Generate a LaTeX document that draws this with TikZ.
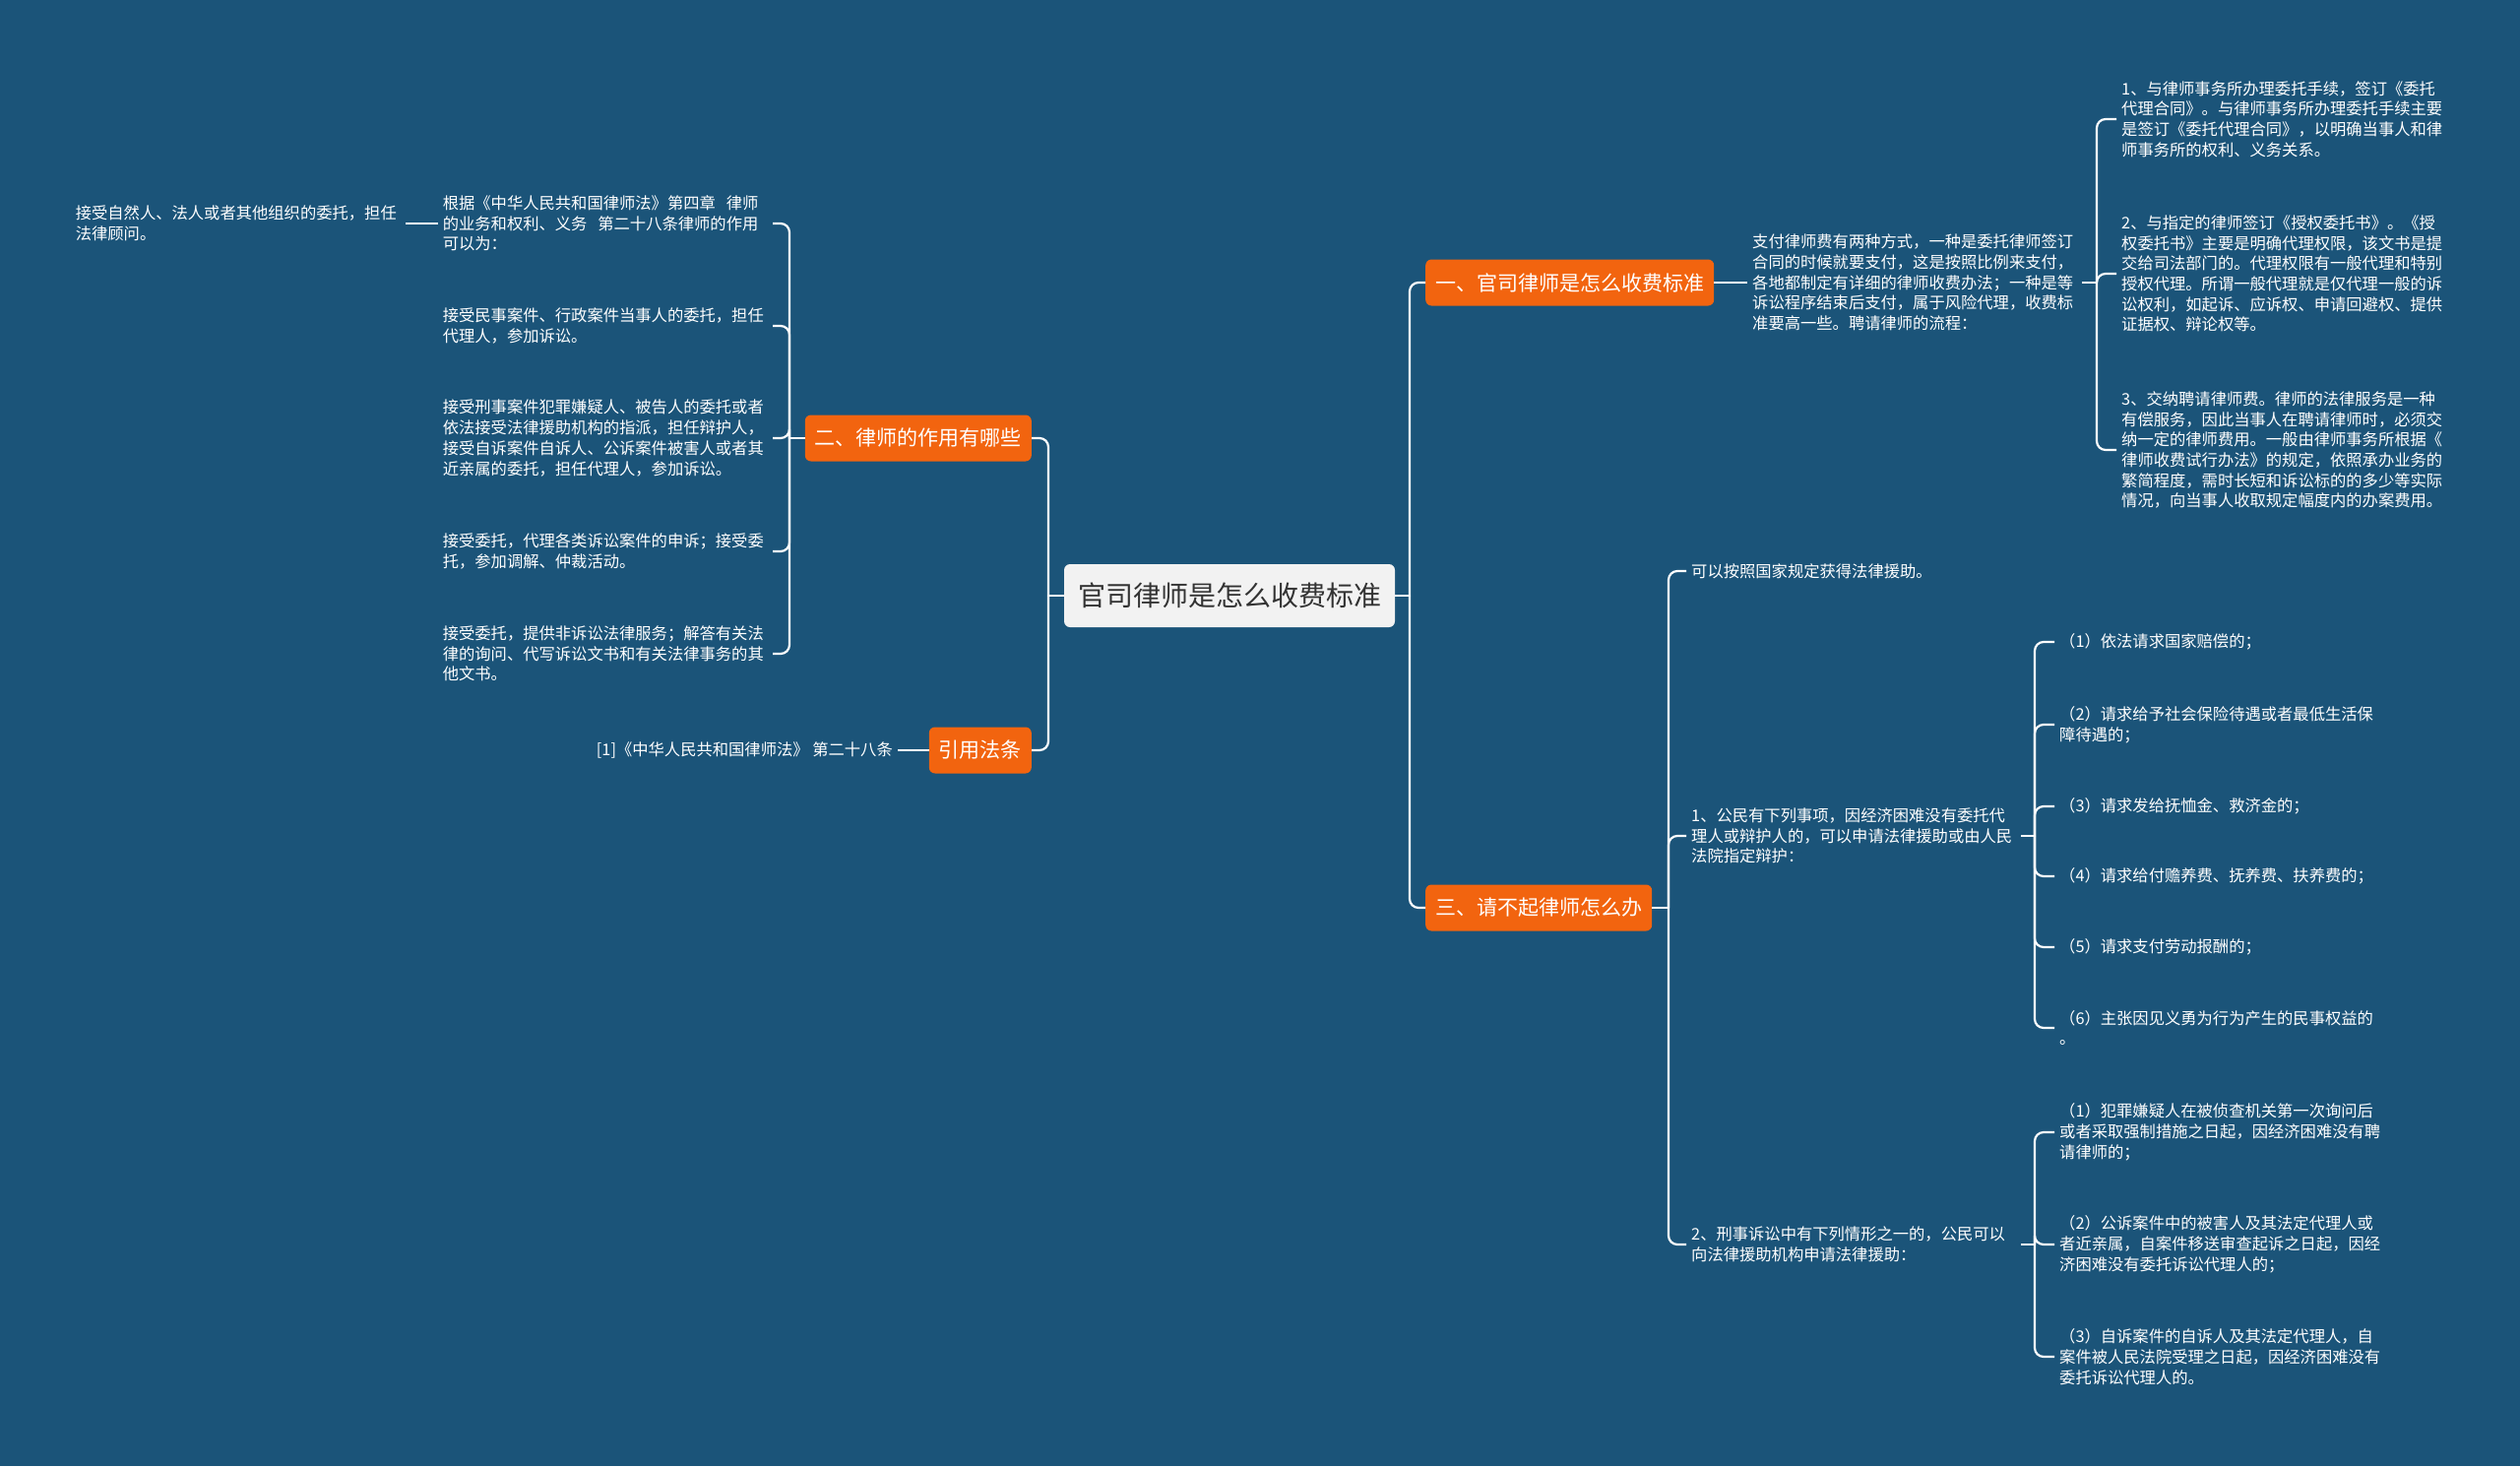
\documentclass[tikz,border=0pt]{standalone}
\usepackage{fontspec}
\setmainfont{Noto Sans CJK SC}
\definecolor{bg}{HTML}{1B5479}
\definecolor{orangebox}{HTML}{F2640F}
\definecolor{rootgray}{HTML}{F2F2F2}
\definecolor{rootink}{HTML}{333333}
\tikzset{
  conn/.style={draw=white, line width=2.2pt},
  bconn/.style={conn, rounded corners=9pt},
  rootbox/.style={fill=rootgray, rounded corners=6pt, text=rootink, font=\fontsize{28}{34}\selectfont, inner xsep=14pt, minimum height=64pt},
  branchbox/.style={fill=orangebox, rounded corners=6pt, text=white, font=\fontsize{21}{26}\selectfont, inner xsep=10pt, minimum height=47pt},
  leaf/.style={text=white, font=\fontsize{16.3}{20.7}\selectfont, align=left, inner xsep=5pt, inner ysep=0pt},
  wleaf/.style={leaf, text width=330pt},
}
\begin{document}
\begin{tikzpicture}[x=1pt, y=-1pt]
\useasboundingbox (0,0) rectangle (2560,1489);
\fill[bg] (0,0) rectangle (2560,1489);

% root
\node[rootbox] (root) at (1249,605) {官司律师是怎么收费标准};

% branches
\node[branchbox, anchor=west] (b1) at (1448,287) {一、官司律师是怎么收费标准};
\node[branchbox, anchor=east] (b2) at (1048,445) {二、律师的作用有哪些};
\node[branchbox, anchor=east] (b4) at (1048,762) {引用法条};
\node[branchbox, anchor=west] (b3) at (1448,922) {三、请不起律师怎么办};

\coordinate (rr) at (1432,605);
\coordinate (rl) at (1065,605);
\draw[conn] (root.east) -- (root.east -| rr);
\draw[bconn] (root.east -| rr) |- (b1.west);
\draw[bconn] (root.east -| rr) |- (b3.west);
\draw[conn] (root.west) -- (root.west -| rl);
\draw[bconn] (root.west -| rl) |- (b2.east);
\draw[bconn] (root.west -| rl) |- (b4.east);

% branch 1
\node[wleaf, anchor=west] (t1) at (1775,287) {支付律师费有两种方式，一种是委托律师签订\\合同的时候就要支付，这是按照比例来支付，\\各地都制定有详细的律师收费办法；一种是等\\诉讼程序结束后支付，属于风险代理，收费标\\准要高一些。聘请律师的流程：};
\draw[conn] (b1.east) -- (t1.west);

\node[wleaf, anchor=west] (t1a) at (2150,121) {1、与律师事务所办理委托手续，签订《委托\\代理合同》。与律师事务所办理委托手续主要\\是签订《委托代理合同》，以明确当事人和律\\师事务所的权利、义务关系。};
\node[wleaf, anchor=west] (t1b) at (2150,278) {2、与指定的律师签订《授权委托书》。《授\\权委托书》主要是明确代理权限，该文书是提\\交给司法部门的。代理权限有一般代理和特别\\授权代理。所谓一般代理就是仅代理一般的诉\\讼权利，如起诉、应诉权、申请回避权、提供\\证据权、辩论权等。};
\node[wleaf, anchor=west] (t1c) at (2150,457) {3、交纳聘请律师费。律师的法律服务是一种\\有偿服务，因此当事人在聘请律师时，必须交\\纳一定的律师费用。一般由律师事务所根据《\\律师收费试行办法》的规定，依照承办业务的\\繁简程度，需时长短和诉讼标的的多少等实际\\情况，向当事人收取规定幅度内的办案费用。};
\coordinate (k1) at (2130,287);
\draw[conn] (t1.east) -- (t1.east -| k1);
\draw[bconn] (t1.east -| k1) |- (t1a.west);
\draw[bconn] (t1.east -| k1) |- (t1b.west);
\draw[bconn] (t1.east -| k1) |- (t1c.west);

% branch 2
\node[wleaf, anchor=east] (c1) at (785,227) {根据《中华人民共和国律师法》第四章~~律师\\的业务和权利、义务~~第二十八条律师的作用\\可以为：};
\node[wleaf, anchor=east] (c2) at (785,331) {接受民事案件、行政案件当事人的委托，担任\\代理人，参加诉讼。};
\node[wleaf, anchor=east] (c3) at (785,445) {接受刑事案件犯罪嫌疑人、被告人的委托或者\\依法接受法律援助机构的指派，担任辩护人，\\接受自诉案件自诉人、公诉案件被害人或者其\\近亲属的委托，担任代理人，参加诉讼。};
\node[wleaf, anchor=east] (c4) at (785,560) {接受委托，代理各类诉讼案件的申诉；接受委\\托，参加调解、仲裁活动。};
\node[wleaf, anchor=east] (c5) at (785,664) {接受委托，提供非诉讼法律服务；解答有关法\\律的询问、代写诉讼文书和有关法律事务的其\\他文书。};
\coordinate (k2) at (802,445);
\draw[conn] (b2.west) -- (b2.west -| k2);
\draw[bconn] (b2.west -| k2) |- (c1.east);
\draw[bconn] (b2.west -| k2) |- (c2.east);
\draw[bconn] (b2.west -| k2) |- (c3.east);
\draw[bconn] (b2.west -| k2) |- (c4.east);
\draw[bconn] (b2.west -| k2) |- (c5.east);

\node[wleaf, anchor=east] (d1) at (412,227) {接受自然人、法人或者其他组织的委托，担任\\法律顾问。};
\draw[conn] (c1.west) -- (d1.east);

% cite
\node[leaf, anchor=east] (cite) at (912,762) {[1]《中华人民共和国律师法》 第二十八条};
\draw[conn] (b4.west) -- (cite.east);

% branch 3
\node[leaf, anchor=west] (e1) at (1713,580) {可以按照国家规定获得法律援助。};
\node[wleaf, anchor=west] (e2) at (1713,849) {1、公民有下列事项，因经济困难没有委托代\\理人或辩护人的，可以申请法律援助或由人民\\法院指定辩护：};
\node[wleaf, anchor=west] (e3) at (1713,1264) {2、刑事诉讼中有下列情形之一的，公民可以\\向法律援助机构申请法律援助：};
\coordinate (k3) at (1695,922);
\draw[conn] (b3.east) -- (b3.east -| k3);
\draw[bconn] (b3.east -| k3) |- (e1.west);
\draw[bconn] (b3.east -| k3) |- (e2.west);
\draw[bconn] (b3.east -| k3) |- (e3.west);

\node[wleaf, anchor=west] (f1) at (2087,652) {（1）依法请求国家赔偿的；};
\node[wleaf, anchor=west] (f2) at (2087,736) {（2）请求给予社会保险待遇或者最低生活保\\障待遇的；};
\node[wleaf, anchor=west] (f3) at (2087,819) {（3）请求发给抚恤金、救济金的；};
\node[wleaf, anchor=west] (f4) at (2087,890) {（4）请求给付赡养费、抚养费、扶养费的；};
\node[wleaf, anchor=west] (f5) at (2087,962) {（5）请求支付劳动报酬的；};
\node[wleaf, anchor=west] (f6) at (2087,1044) {（6）主张因见义勇为行为产生的民事权益的\\。};
\coordinate (k4) at (2067,849);
\draw[conn] (e2.east) -- (e2.east -| k4);
\foreach \f in {f1,f2,f3,f4,f5,f6}
  \draw[bconn] (e2.east -| k4) |- (\f.west);

\node[wleaf, anchor=west] (g1) at (2087,1150) {（1）犯罪嫌疑人在被侦查机关第一次询问后\\或者采取强制措施之日起，因经济困难没有聘\\请律师的；};
\node[wleaf, anchor=west] (g2) at (2087,1264) {（2）公诉案件中的被害人及其法定代理人或\\者近亲属，自案件移送审查起诉之日起，因经\\济困难没有委托诉讼代理人的；};
\node[wleaf, anchor=west] (g3) at (2087,1378) {（3）自诉案件的自诉人及其法定代理人，自\\案件被人民法院受理之日起，因经济困难没有\\委托诉讼代理人的。};
\coordinate (k5) at (2067,1264);
\draw[conn] (e3.east) -- (e3.east -| k5);
\foreach \g in {g1,g2,g3}
  \draw[bconn] (e3.east -| k5) |- (\g.west);
\end{tikzpicture}
\end{document}
